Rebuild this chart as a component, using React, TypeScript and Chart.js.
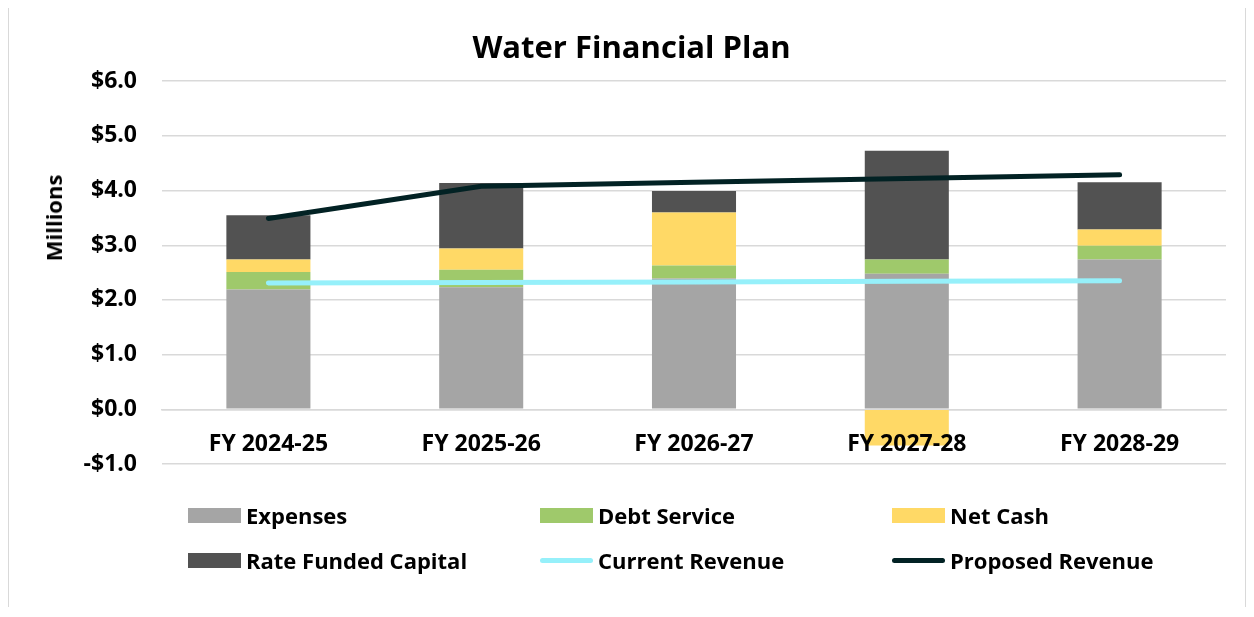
import React, { useEffect, useRef } from "react";
import { Chart, registerables } from "chart.js";

Chart.register(...registerables);

const categories = ["FY 2024-25", "FY 2025-26", "FY 2026-27", "FY 2027-28", "FY 2028-29"];
const expenses = [2.19, 2.23, 2.39, 2.48, 2.74];
const debtService = [0.32, 0.32, 0.24, 0.26, 0.25];
const netCash = [0.23, 0.39, 0.97, -0.66, 0.3];
const rateFundedCapital = [0.81, 1.2, 0.39, 1.99, 0.86];
const currentRevenue = [2.31, 2.32, 2.33, 2.34, 2.35];
const proposedRevenue = [3.49, 4.08, 4.15, 4.22, 4.29];
const yMin = -1;
const yMax = 6;
const yStep = 1;

const COLORS = {
  expenses: "#A5A5A5",
  debt: "#9FC96B",
  net: "#FFD966",
  rfc: "#525252",
  current: "#96F0FA",
  proposed: "#022224",
  grid: "#D9D9D9",
};

const FONT = "'Open Sans', Lato, sans-serif";

const legendItems = [
  { label: "Expenses", color: COLORS.expenses, kind: "box" },
  { label: "Debt Service", color: COLORS.debt, kind: "box" },
  { label: "Net Cash", color: COLORS.net, kind: "box" },
  { label: "Rate Funded Capital", color: COLORS.rfc, kind: "box" },
  { label: "Current Revenue", color: COLORS.current, kind: "line" },
  { label: "Proposed Revenue", color: COLORS.proposed, kind: "line" },
];

export default function App() {
  const canvasRef = useRef<HTMLCanvasElement | null>(null);

  useEffect(() => {
    const canvas = canvasRef.current;
    if (!canvas) return;
    const chart = new Chart(canvas, {
      type: "bar",
      data: {
        labels: categories,
        datasets: [
          { type: "line", label: "Current Revenue", data: currentRevenue, borderColor: COLORS.current, backgroundColor: COLORS.current, borderWidth: 5, borderCapStyle: "round", pointRadius: 0, tension: 0, stack: "cur", order: 0 } as any,
          { type: "line", label: "Proposed Revenue", data: proposedRevenue, borderColor: COLORS.proposed, backgroundColor: COLORS.proposed, borderWidth: 5, borderCapStyle: "round", pointRadius: 0, tension: 0, stack: "prop", order: 0 } as any,
          { type: "bar", label: "Expenses", data: expenses, backgroundColor: COLORS.expenses, stack: "bars", order: 1 },
          { type: "bar", label: "Debt Service", data: debtService, backgroundColor: COLORS.debt, stack: "bars", order: 1 },
          { type: "bar", label: "Net Cash", data: netCash, backgroundColor: COLORS.net, stack: "bars", order: 1 },
          { type: "bar", label: "Rate Funded Capital", data: rateFundedCapital, backgroundColor: COLORS.rfc, stack: "bars", order: 1 },
        ],
      },
      options: {
        animation: false,
        responsive: false,
        maintainAspectRatio: false,
        layout: { padding: { left: 28, right: 19, top: 0, bottom: 143 } },
        datasets: {
          bar: { barPercentage: 1, categoryPercentage: 0.395 },
        },
        plugins: {
          legend: { display: false },
          tooltip: { enabled: false },
          title: {
            display: true,
            text: "Water Financial Plan",
            color: "#000",
            font: { family: FONT, size: 31, weight: "bold", lineHeight: 1.2 },
            padding: { top: 24, bottom: 13 },
          },
        },
        scales: {
          x: {
            stacked: true,
            position: { y: 0 } as any,
            grid: { display: false, drawTicks: false },
            border: { display: true, color: COLORS.grid, width: 1.5 },
            ticks: {
              z: 1,
              color: "#000",
              padding: 21,
              font: { family: FONT, size: 23, weight: "bold" },
            },
          },
          y: {
            stacked: true,
            min: yMin,
            max: yMax,
            afterFit: (scale: any) => {
              scale.width = 125;
            },
            grid: { color: COLORS.grid, lineWidth: 1.5, drawTicks: false },
            border: { display: false },
            ticks: {
              stepSize: yStep,
              color: "#000",
              padding: 25,
              font: { family: FONT, size: 23, weight: "bold" },
              callback: (v: any) => {
                const n = Number(v);
                return n < 0 ? "-$" + Math.abs(n).toFixed(1) : "$" + n.toFixed(1);
              },
            },
          },
        },
      },
    });
    return () => chart.destroy();
  }, []);

  return (
    <div
      style={{
        position: "relative",
        marginTop: -2,
        width: 1236,
        height: 600,
        borderTop: "1px solid #D9D9D9",
        borderLeft: "1px solid #D9D9D9",
        borderRight: "1px solid #D9D9D9",
        fontFamily: FONT,
      }}
    >
      <canvas ref={canvasRef} width={1236} height={600} style={{ position: "absolute", left: 0, top: 0, width: 1236, height: 600 }} />
      <div
        style={{
          position: "absolute",
          left: 44,
          top: 211,
          transform: "translate(-50%, -50%) rotate(-90deg)",
          fontSize: 22,
          fontWeight: "bold",
          color: "#000",
          whiteSpace: "nowrap",
        }}
      >
        Millions
      </div>
      {legendItems.map((item, i) => {
        const col = i % 3;
        const row = Math.floor(i / 3);
        const left = 179 + col * 352;
        const cy = 508 + row * 45;
        return (
          <div
            key={item.label}
            style={{
              position: "absolute",
              left,
              top: cy - 15,
              height: 30,
              display: "flex",
              alignItems: "center",
              whiteSpace: "nowrap",
            }}
          >
            {item.kind === "box" ? (
              <span style={{ display: "inline-block", width: 53, height: 15, background: item.color }} />
            ) : (
              <span style={{ display: "inline-block", width: 53, height: 5, borderRadius: 3, background: item.color }} />
            )}
            <span style={{ marginLeft: 5, fontSize: 22, fontWeight: "bold", color: "#000" }}>{item.label}</span>
          </div>
        );
      })}
    </div>
  );
}
